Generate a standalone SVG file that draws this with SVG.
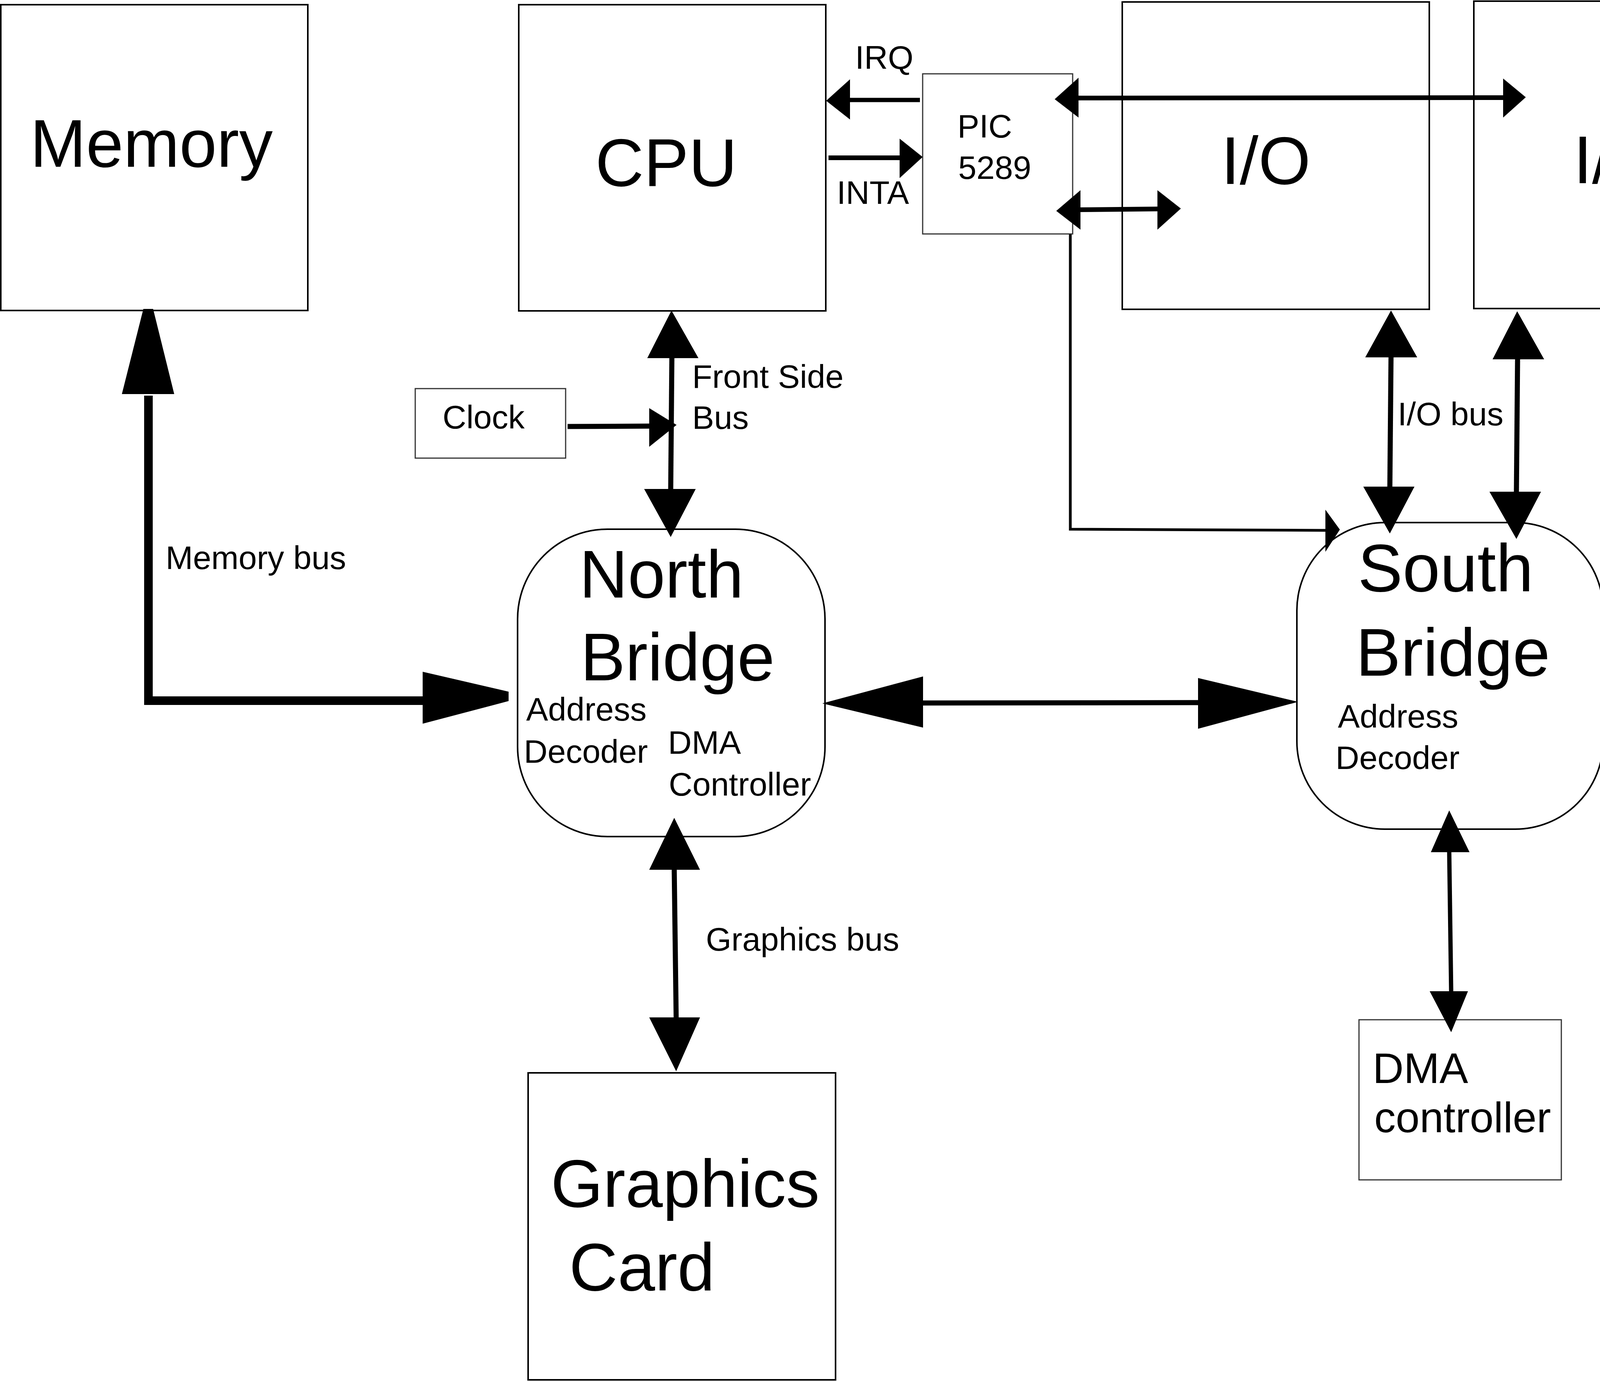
<svg xmlns="http://www.w3.org/2000/svg" width="4558" height="3536" viewBox="0 0 4558 3536">
<style>
.box{fill:#fff;stroke:#000;stroke-width:4}
.tbox{fill:#fff;stroke:#333;stroke-width:3}
text{font-family:"Liberation Sans",Arial,sans-serif;fill:#000}
.big{font-size:172px}
.sm{font-size:84px}
.md{font-size:110px}
.ln{stroke:#000;fill:none;stroke-width:13}
.hd{fill:#000;stroke:none}
</style>
<rect width="4558" height="3536" fill="#fff"/>
<g id="memory"><rect class="box" x="2" y="12" width="786" height="783"/><text class="big" x="77" y="427" font-size="175">Memory</text></g>
<g id="cpu"><rect class="box" x="1328" y="12" width="786" height="784"/><text class="big" x="1524" y="476">CPU</text></g>
<g id="pic"><rect class="tbox" x="2362" y="189" width="384" height="410"/><text class="sm" x="2451" y="352">PIC</text><text class="sm" x="2453" y="458">5289</text></g>
<g id="io1"><rect class="box" x="2873" y="5" width="786" height="787"/><text class="big" x="3126" y="471">I/O</text></g>
<g id="io2"><rect class="box" x="3773" y="3" width="783" height="787"/><text class="big" x="4028" y="469">I/O</text></g>
<g id="clock"><rect class="tbox" x="1063" y="995" width="385" height="178"/><text class="sm" x="1133" y="1097">Clock</text></g>
<g id="northbridge"><rect class="box" x="1325" y="1355" width="787" height="787" rx="230" ry="230"/><text class="big" x="1483" y="1530">North</text><text class="big" x="1486" y="1742">Bridge</text><text class="sm" x="1347" y="1845">Address</text><text class="sm" x="1341" y="1953">Decoder</text><text class="sm" x="1710" y="1930">DMA</text><text class="sm" x="1712" y="2037">Controller</text></g>
<g id="southbridge"><rect class="box" x="3320" y="1338" width="784" height="785" rx="225" ry="225"/><text class="big" x="3476" y="1514">South</text><text class="big" x="3471" y="1730">Bridge</text><text class="sm" x="3425" y="1863">Address</text><text class="sm" x="3419" y="1969">Decoder</text></g>
<g id="graphics"><rect class="box" x="1352" y="2747" width="787" height="786"/><text class="big" x="1410" y="3090">Graphics</text><text class="big" x="1457" y="3304">Card</text></g>
<g id="dma"><rect class="tbox" x="3479" y="2611" width="518" height="410"/><text class="md" x="3514" y="2773">DMA</text><text class="md" x="3518" y="2899">controller</text></g>
<g id="connectors">
<polyline class="ln" style="stroke-width:22" points="380,1013 380,1794 1082,1794"/>
<polygon class="hd" points="367,791 392,791 446,1009 312,1009"/>
<polygon class="hd" points="1082,1720 1302,1771 1302,1795 1082,1853"/>
<line class="ln" x1="1720" y1="915" x2="1717" y2="1254"/>
<polygon class="hd" points="1719,795 1788,917 1657,917"/>
<polygon class="hd" points="1649,1252 1781,1252 1717,1375"/>
<line class="ln" x1="1453" y1="1092" x2="1665" y2="1091"/>
<polygon class="hd" points="1662,1045 1732,1088 1662,1144"/>
<line class="ln" style="stroke-width:11" x1="2355" y1="256" x2="2170" y2="256"/>
<polygon class="hd" points="2176,203 2176,306 2115,258"/>
<line class="ln" style="stroke-width:12" x1="2121" y1="404" x2="2306" y2="404"/>
<polygon class="hd" points="2303,355 2362,402 2303,456"/>
<line class="ln" style="stroke-width:12" x1="2755" y1="251" x2="3850" y2="250"/>
<polygon class="hd" points="2761,199 2700,254 2761,301"/>
<polygon class="hd" points="3848,201 3906,249 3848,301"/>
<line class="ln" style="stroke-width:12" x1="2760" y1="537" x2="2965" y2="535"/>
<polygon class="hd" points="2766,487 2704,540 2766,588"/>
<polygon class="hd" points="2963,487 3023,534 2963,588"/>
<polyline class="ln" style="stroke-width:7" points="2740,600 2740,1355 3396,1358"/>
<polygon class="hd" points="3393,1305 3430,1356 3393,1413"/>
<line class="ln" x1="3561" y1="915" x2="3558" y2="1248"/>
<polygon class="hd" points="3561,795 3628,915 3495,915"/>
<polygon class="hd" points="3490,1246 3621,1246 3558,1366"/>
<line class="ln" x1="3885" y1="918" x2="3882" y2="1260"/>
<polygon class="hd" points="3884,797 3953,920 3821,920"/>
<polygon class="hd" points="3813,1259 3945,1259 3882,1380"/>
<line class="ln" x1="2360" y1="1800" x2="3070" y2="1799"/>
<polygon class="hd" points="2363,1732 2105,1801 2363,1863"/>
<polygon class="hd" points="3067,1736 3323,1797 3067,1866"/>
<line class="ln" x1="1726" y1="2225" x2="1731" y2="2607"/>
<polygon class="hd" points="1726,2094 1792,2227 1662,2227"/>
<polygon class="hd" points="1662,2605 1792,2605 1731,2743"/>
<line class="ln" style="stroke-width:11" x1="3710" y1="2180" x2="3715" y2="2540"/>
<polygon class="hd" points="3710,2075 3762,2182 3663,2182"/>
<polygon class="hd" points="3660,2538 3758,2538 3715,2643"/>
</g>
<g id="labels">
<text class="sm" x="1772" y="993">Front Side</text>
<text class="sm" x="1772" y="1098">Bus</text>
<text class="sm" x="2189" y="176">IRQ</text>
<text class="sm" x="2142" y="522">INTA</text>
<text class="sm" x="3578" y="1089">I/O bus</text>
<text class="sm" x="424" y="1457">Memory bus</text>
<text class="sm" x="1807" y="2434">Graphics bus</text>
</g>
</svg>
